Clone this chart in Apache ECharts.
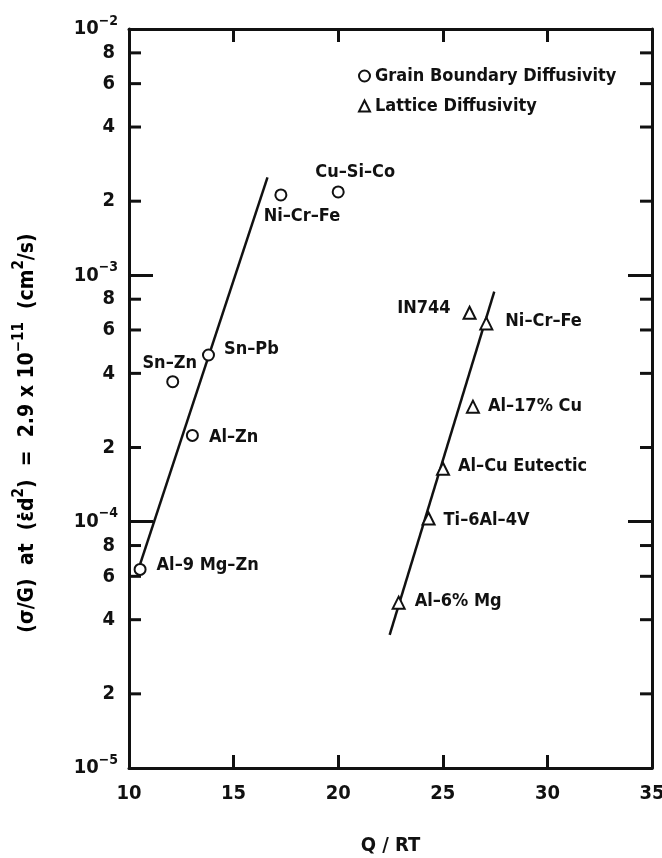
<!DOCTYPE html>
<html>
<head>
<meta charset="utf-8">
<script src="https://cdn.jsdelivr.net/npm/echarts@6/dist/echarts.min.js"></script>
<style>
  html, body { margin: 0; padding: 0; background: #fff; }
  #chart { width: 662px; height: 858px; }
</style>
</head>
<body>
<div id="chart"></div>
<script>
// grain boundary diffusivity points
const gbNames = ["Al–9 Mg–Zn", "Sn–Zn", "Al–Zn", "Sn–Pb", "Ni–Cr–Fe", "Cu–Si–Co"];
const gbQ = [10.53, 12.09, 13.03, 13.8, 17.26, 20.0];
const gbSigma = [6.4e-5, 3.7e-4, 2.24e-4, 4.75e-4, 2.12e-3, 2.18e-3];

// lattice diffusivity points
const latNames = ["Al–6% Mg", "Ti–6Al–4V", "Al–Cu Eutectic", "Al–17% Cu", "IN744", "Ni–Cr–Fe"];
const latQ = [22.89, 24.32, 25.01, 26.44, 26.28, 27.08];
const latSigma = [4.69e-5, 1.03e-4, 1.64e-4, 2.93e-4, 7.05e-4, 6.38e-4];

// fitted lines (end points)
const gbFitQ = [10.5, 16.62];
const gbFitSigma = [6.6e-5, 2.5e-3];
const latFitQ = [22.46, 27.46];
const latFitSigma = [3.47e-5, 8.58e-4];

// axes
const xMin = 10, xMax = 35, xStep = 5;
const yMin = 1e-5, yMax = 1e-2;
const minorMantissas = [2, 4, 6, 8];

const FONT = "'Liberation Sans Narrow', 'DejaVu Sans Condensed', 'Liberation Sans', sans-serif";
const INK = "#111";

// label placement (style only)
const gbLabel = [
  { position: "right", distance: 10, offset: [0, -4] },
  { position: "top", distance: 3, offset: [-3, 0] },
  { position: "right", distance: 10, offset: [0, 2] },
  { position: "right", distance: 9, offset: [0, -6] },
  { position: "bottom", distance: 6, offset: [21, 0] },
  { position: "top", distance: 4, offset: [17, 0] }
];
const latLabel = [
  { position: "right", distance: 9, offset: [0, -1] },
  { position: "right", distance: 8, offset: [0, 2] },
  { position: "right", distance: 8, offset: [0, -2] },
  { position: "right", distance: 8, offset: [0, 0] },
  { position: "left", distance: 12, offset: [0, -4] },
  { position: "right", distance: 12, offset: [0, -2] }
];

const minorTicks = [];
for (let e = -5; e < -2; e++) {
  minorMantissas.forEach((m) => minorTicks.push(m * Math.pow(10, e)));
}

const supRich = {
  b: { fontSize: 20, lineHeight: 30, fontWeight: "bold", fontFamily: FONT, color: INK },
  s: { fontSize: 14, verticalAlign: "top", fontWeight: "bold", fontFamily: FONT, color: INK }
};
const nameRich = {
  b: { fontSize: 21, lineHeight: 32, fontWeight: "bold", fontFamily: FONT, color: INK },
  s: { fontSize: 15, verticalAlign: "top", fontWeight: "bold", fontFamily: FONT, color: INK }
};

const labelStyle = { fontSize: 18, fontWeight: "bold", fontFamily: FONT, color: INK };

const chart = echarts.init(document.getElementById("chart"), null, { renderer: "canvas" });

chart.setOption({
  animation: false,
  backgroundColor: "#fff",
  textStyle: { fontFamily: FONT, color: INK },
  grid: { left: 129, right: 10, top: 29, bottom: 90, containLabel: false, outerBoundsMode: "none" },
  legend: {
    orient: "vertical",
    left: 353,
    top: 62,
    itemGap: 12,
    itemWidth: 11,
    itemHeight: 11,
    textStyle: { fontSize: 18, fontWeight: "bold", fontFamily: FONT, color: INK },
    data: [
      { name: "Grain Boundary Diffusivity", icon: "circle", itemStyle: { color: "#fff", borderColor: INK, borderWidth: 2 } },
      { name: "Lattice Diffusivity", icon: "triangle", itemStyle: { color: "#fff", borderColor: INK, borderWidth: 2 } }
    ]
  },
  xAxis: [
    {
      type: "value",
      min: xMin,
      max: xMax,
      interval: xStep,
      position: "bottom",
      name: "Q / RT",
      nameLocation: "middle",
      nameGap: 68,
      nameTextStyle: { fontSize: 20, fontWeight: "bold", fontFamily: FONT, color: INK },
      axisLine: { lineStyle: { color: INK, width: 3 } },
      axisTick: { inside: true, length: 13, lineStyle: { color: INK, width: 3 } },
      axisLabel: { margin: 16, fontSize: 20, fontWeight: "bold", fontFamily: FONT, color: INK },
      splitLine: { show: false }
    },
    {
      type: "value",
      min: xMin,
      max: xMax,
      interval: xStep,
      position: "top",
      axisLine: { lineStyle: { color: INK, width: 3 } },
      axisTick: { inside: true, length: 13, lineStyle: { color: INK, width: 3 } },
      axisLabel: { show: false },
      splitLine: { show: false }
    }
  ],
  yAxis: [
    {
      type: "log",
      logBase: 10,
      min: yMin,
      max: yMax,
      position: "left",
      axisLine: { lineStyle: { color: INK, width: 3 } },
      axisTick: { inside: true, length: 24, lineStyle: { color: INK, width: 3 } },
      axisLabel: {
        margin: 11,
        formatter: (v) => "{b|10}{s|−" + Math.round(-Math.log10(v)) + "}",
        rich: supRich
      },
      splitLine: { show: false }
    },
    {
      type: "log",
      logBase: 10,
      min: yMin,
      max: yMax,
      position: "right",
      axisLine: { lineStyle: { color: INK, width: 3 } },
      axisTick: { inside: true, length: 24, lineStyle: { color: INK, width: 3 } },
      axisLabel: { show: false },
      splitLine: { show: false }
    }
  ],
  graphic: [
    {
      type: "text",
      x: 28,
      y: 433,
      rotation: Math.PI / 2,
      style: {
        text: "{b|(σ/G)  at  (ε̇d}{s|2}{b|)  =  2.9 x 10}{s|−11}{b|  (cm}{s|2}{b|/s)}",
        rich: nameRich,
        align: "center",
        verticalAlign: "middle"
      }
    }
  ],
  series: [
    {
      type: "line",
      data: gbFitQ.map((q, i) => [q, gbFitSigma[i]]),
      symbol: "none",
      lineStyle: { color: INK, width: 2.5 },
      silent: true,
      z: 2
    },
    {
      type: "line",
      data: latFitQ.map((q, i) => [q, latFitSigma[i]]),
      symbol: "none",
      lineStyle: { color: INK, width: 2.5 },
      silent: true,
      z: 2
    },
    {
      name: "Grain Boundary Diffusivity",
      type: "scatter",
      symbol: "circle",
      symbolSize: 11,
      itemStyle: { color: "#fff", borderColor: INK, borderWidth: 2, opacity: 1 },
      z: 3,
      data: gbQ.map((q, i) => ({
        value: [q, gbSigma[i]],
        name: gbNames[i],
        label: Object.assign({ show: true, formatter: gbNames[i] }, labelStyle, gbLabel[i])
      }))
    },
    {
      name: "Lattice Diffusivity",
      type: "scatter",
      symbol: "triangle",
      symbolSize: 12,
      itemStyle: { color: "#fff", borderColor: INK, borderWidth: 2, opacity: 1 },
      z: 3,
      data: latQ.map((q, i) => ({
        value: [q, latSigma[i]],
        name: latNames[i],
        label: Object.assign({ show: true, formatter: latNames[i] }, labelStyle, latLabel[i])
      }))
    },
    {
      // minor log ticks (2,4,6,8) on both sides with labels on the left
      type: "custom",
      silent: true,
      z: 4,
      data: minorTicks.map((v) => [xMin, v]),
      renderItem: (params, api) => {
        const v = api.value(1);
        const left = api.coord([xMin, v]);
        const right = api.coord([xMax, v]);
        const mant = Math.round(v / Math.pow(10, Math.floor(Math.log10(v) + 1e-9)));
        const lineStyle = { stroke: INK, lineWidth: 3 };
        return {
          type: "group",
          children: [
            { type: "line", shape: { x1: left[0], y1: left[1], x2: left[0] + 12, y2: left[1] }, style: lineStyle },
            { type: "line", shape: { x1: right[0] - 12, y1: right[1], x2: right[0], y2: right[1] }, style: lineStyle },
            {
              type: "text",
              x: left[0] - 14,
              y: left[1],
              style: {
                text: String(mant),
                fill: INK,
                font: "bold 20px " + FONT,
                align: "right",
                verticalAlign: "middle"
              }
            }
          ]
        };
      }
    }
  ]
});
</script>
</body>
</html>
